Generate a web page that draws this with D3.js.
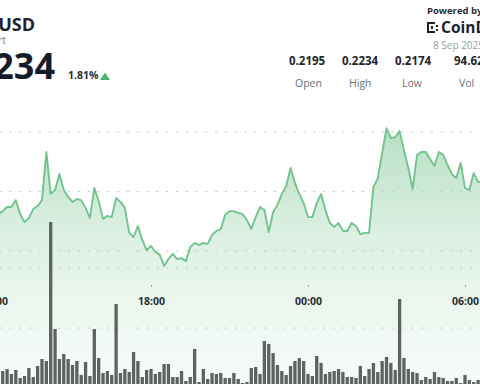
<!DOCTYPE html>
<html>
<head>
<meta charset="utf-8">
<script src="https://cdn.jsdelivr.net/npm/d3@7"></script>
<style>
  html, body { margin: 0; padding: 0; background: #fff; overflow: hidden; }
  svg { display: block; font-family: "Open Sans", "Noto Sans", sans-serif; }
</style>
</head>
<body>
<svg id="chart" width="480" height="384"></svg>
<script>
// ---- Data (10-minute intervals starting 7 Sep 2025 12:10) ----
const prices = [
  0.21924, 0.21934, 0.21948, 0.21948, 0.21971, 0.21924, 0.21897, 0.21911, 0.21941, 0.21951,
  0.21971, 0.22133, 0.21992, 0.22005, 0.22059, 0.22005, 0.21982, 0.21965, 0.21975, 0.21971,
  0.21945, 0.21911, 0.22012, 0.21968, 0.21908, 0.21918, 0.21914, 0.21978, 0.21965, 0.21945,
  0.21861, 0.21847, 0.21884, 0.21837, 0.21803, 0.21817, 0.21797, 0.21787, 0.21750, 0.21773,
  0.21790, 0.21773, 0.21776, 0.21766, 0.21813, 0.21827, 0.21820, 0.21827, 0.21824, 0.21854,
  0.21867, 0.21874, 0.21921, 0.21934, 0.21934, 0.21928, 0.21924, 0.21904, 0.21874, 0.21914,
  0.21948, 0.21938, 0.21864, 0.21931, 0.21955, 0.21992, 0.22018, 0.22079, 0.22029, 0.21992,
  0.21961, 0.21914, 0.21914, 0.21961, 0.21992, 0.21938, 0.21894, 0.21881, 0.21894, 0.21867,
  0.21867, 0.21894, 0.21884, 0.21857, 0.21861, 0.21861, 0.22015, 0.22045, 0.22129, 0.22213,
  0.22180, 0.22183, 0.22203, 0.22139, 0.22079, 0.22008, 0.22123, 0.22133, 0.22133, 0.22109,
  0.22086, 0.22133, 0.22123, 0.22089, 0.22059, 0.22045, 0.22096, 0.22012, 0.22005, 0.22062,
  0.22032, 0.22032
];
const volumes = [
  5.0, 4.25, 4.75, 3.5, 4.5, 2.5, 3.0, 5.0, 2.75, 5.5,
  7.25, 6.75, 41.5, 14.75, 7.25, 8.5, 7.25, 5.75, 6.75, 3.25,
  6.5, 3.0, 14.75, 7.5, 3.75, 4.25, 3.25, 21.0, 3.75, 4.75,
  4.0, 9.0, 6.75, 2.75, 4.5, 4.75, 3.5, 4.0, 6.0, 6.0,
  2.75, 2.75, 4.25, 1.75, 2.75, 9.75, 1.5, 4.75, 2.25, 3.75,
  3.5, 3.75, 2.5, 2.5, 3.75, 2.25, 1.25, 1.5, 5.0, 5.25,
  3.5, 11.75, 11.0, 8.75, 5.75, 4.25, 3.25, 5.5, 6.75, 7.5,
  6.75, 3.5, 3.0, 8.0, 6.25, 3.5, 4.0, 4.25, 4.75, 4.0,
  2.75, 2.75, 2.5, 5.5, 3.0, 4.75, 6.25, 4.0, 6.75, 7.75,
  6.25, 4.5, 22.25, 7.5, 4.75, 4.0, 3.75, 2.0, 2.75, 2.25,
  4.0, 2.75, 2.5, 1.75, 1.75, 2.5, 1.25, 3.25, 2.0, 1.5,
  2.0, 2.0
];
const priceTicks = [0.218, 0.220, 0.222];
const volumeTicks = [15, 30];
const timeTickLabels = ["12:00", "18:00", "00:00", "06:00"];
const statValues = ["0.2195", "0.2234", "0.2174", "94.62 M"];
const statLabels = ["Open", "High", "Low", "Vol"];

// ---- Build time series ----
const start = new Date(2025, 8, 7, 12, 10);
const step = 10 * 60 * 1000;
const data = prices.map((p, i) => ({ t: new Date(+start + i * step), p, v: volumes[i] }));
const tickTimes = [new Date(2025, 8, 7, 12, 0), new Date(2025, 8, 7, 18, 0),
                   new Date(2025, 8, 8, 0, 0), new Date(2025, 8, 8, 6, 0)];

const svg = d3.select("#chart");
const W = 480, H = 384;

const x = d3.scaleTime()
  .domain([new Date(2025, 8, 7, 18, 0), new Date(2025, 8, 8, 0, 0)])
  .range([151, 308]);
const y = d3.scaleLinear().domain([0.218, 0.222]).range([251, 132]);
const yv = d3.scaleLinear().domain([0, 30]).range([388, 268]);

// ---- Gradient ----
const defs = svg.append("defs");
const grad = defs.append("linearGradient").attr("id", "areaGrad")
  .attr("gradientUnits", "userSpaceOnUse")
  .attr("x1", 0).attr("y1", 125).attr("x2", 0).attr("y2", 390);
grad.append("stop").attr("offset", "0%").attr("stop-color", "#5bb878").attr("stop-opacity", 0.45);
grad.append("stop").attr("offset", "45%").attr("stop-color", "#6cc089").attr("stop-opacity", 0.22);
grad.append("stop").attr("offset", "100%").attr("stop-color", "#8fd0a4").attr("stop-opacity", 0.06);

// ---- Area ----
const area = d3.area().x(d => x(d.t)).y0(400).y1(d => y(d.p)).curve(d3.curveLinear);
svg.append("path").datum(data).attr("d", area).attr("fill", "url(#areaGrad)");

// ---- Gridlines ----
const gridG = svg.append("g").attr("class", "grid");
gridG.selectAll("line.pg").data(priceTicks).join("line")
  .attr("x1", 0).attr("x2", W)
  .attr("y1", d => y(d)).attr("y2", d => y(d))
  .attr("stroke", "#c4c8c6").attr("stroke-width", 1.2)
  .attr("stroke-dasharray", "1.2,8.6").attr("stroke-linecap", "round");
gridG.selectAll("line.vg").data(volumeTicks).join("line")
  .attr("x1", 0).attr("x2", W)
  .attr("y1", d => yv(d)).attr("y2", d => yv(d))
  .attr("stroke", "#c4c8c6").attr("stroke-width", 1.2)
  .attr("stroke-dasharray", "1.2,8.6").attr("stroke-linecap", "round");

// ---- Volume bars ----
const bw = 3.3;
svg.append("g").selectAll("rect").data(data).join("rect")
  .attr("x", d => x(d.t) - bw / 2)
  .attr("width", bw)
  .attr("y", d => yv(d.v))
  .attr("height", d => yv(0) - yv(d.v))
  .attr("fill", "#5d635e");

// ---- Price line ----
const line = d3.line().x(d => x(d.t)).y(d => y(d.p)).curve(d3.curveLinear);
svg.append("path").datum(data).attr("d", line)
  .attr("fill", "none").attr("stroke", "#72c48e").attr("stroke-width", 1.9)
  .attr("stroke-linejoin", "round");

// ---- X axis ----
const xAxis = d3.axisBottom(x).tickValues(tickTimes)
  .tickFormat((d, i) => timeTickLabels[i]).tickSize(2).tickPadding(11);
const ax = svg.append("g").attr("transform", "translate(0,285)").call(xAxis);
ax.select(".domain").remove();
ax.selectAll(".tick line").attr("stroke", "#9aa09c");
ax.selectAll(".tick text").attr("fill", "#2b2f33").attr("font-size", "10.5px")
  .attr("font-weight", "700").attr("font-family", "'Open Sans', sans-serif");

// ---- Header ----
const hdr = svg.append("g");
hdr.append("text").attr("x", 35).attr("y", 31).attr("text-anchor", "end")
  .attr("font-size", "18px").attr("font-weight", 700).attr("fill", "#1c2230").text("DOGE/USD");
hdr.append("text").attr("x", 6).attr("y", 44).attr("text-anchor", "end")
  .attr("font-size", "10.5px").attr("fill", "#7b8088").text("Price Chart");
hdr.append("text").attr("x", 55).attr("y", 79).attr("text-anchor", "end")
  .attr("font-size", "36px").attr("font-weight", 700).attr("fill", "#151b2b").text("0.2234");
hdr.append("text").attr("x", 68).attr("y", 79)
  .attr("font-size", "10.5px").attr("font-weight", 700).attr("fill", "#2b2f33").text("1.81%");
hdr.append("path").attr("d", "M100,80 L105,72.5 L110,80 Z").attr("fill", "#4cb46a");

// stats
const statX = [289, 342, 395, 454];
const labX = [295, 349, 402, 459];
statValues.forEach((s, i) => {
  hdr.append("text").attr("x", statX[i]).attr("y", 65)
    .attr("font-size", "11.5px").attr("font-weight", 700).attr("fill", "#1f242b").text(s);
});
statLabels.forEach((s, i) => {
  hdr.append("text").attr("x", labX[i]).attr("y", 87)
    .attr("font-size", "10.5px").attr("fill", "#6b7078").text(s);
});

// Powered by / logo / date
hdr.append("text").attr("x", 427).attr("y", 14)
  .attr("font-size", "9.5px").attr("font-weight", 700).attr("fill", "#2b2f33").text("Powered by");
const logo = hdr.append("g").attr("transform", "translate(427,22)");
logo.append("path").attr("d", "M0,0 h8 v2 h-6 v7 h6 v2 h-8 Z").attr("fill", "#1c2230");
logo.append("rect").attr("x", 4).attr("y", 4).attr("width", 2).attr("height", 3).attr("fill", "#1c2230");
logo.append("rect").attr("x", 9).attr("y", 3).attr("width", 2).attr("height", 2).attr("fill", "#1c2230");
logo.append("rect").attr("x", 9).attr("y", 7).attr("width", 2).attr("height", 2).attr("fill", "#1c2230");
hdr.append("text").attr("x", 441).attr("y", 33)
  .attr("font-size", "15.5px").attr("font-weight", 700).attr("fill", "#1c2230").text("CoinDesk");
hdr.append("text").attr("x", 433).attr("y", 49)
  .attr("font-size", "10px").attr("fill", "#9a9ea4").text("8 Sep 2025");
</script>
</body>
</html>
